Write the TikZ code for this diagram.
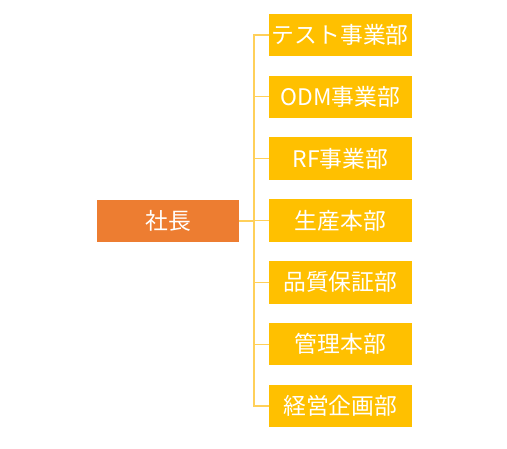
\documentclass[tikz,border=0pt]{standalone}
\usepackage{fontspec}
\newfontfamily\cjk{Noto Sans CJK JP}
\definecolor{rootc}{HTML}{ED7D31}
\definecolor{childc}{HTML}{FFC000}
\definecolor{linec}{HTML}{FFD05A}
\begin{document}
\begin{tikzpicture}[x=1pt,y=-1pt,
  box/.style={minimum width=142.5pt,minimum height=42.5pt,inner sep=0pt,text=white,font=\cjk\fontsize{22.8}{22.8}\selectfont},
  rootbox/.style={box,fill=rootc},
  childbox/.style={box,fill=childc},
  conn/.style={draw=linec,line width=1.2pt}]
\useasboundingbox (0,0) rectangle (507,449);
\node[rootbox] (root) at (168,221) {社長};
\node[childbox] (c1) at (340.3,35) {テスト事業部};
\node[childbox] (c2) at (340.3,96.8) {ODM事業部};
\node[childbox] (c3) at (340.3,158.7) {RF事業部};
\node[childbox] (c4) at (340.3,220.5) {生産本部};
\node[childbox] (c5) at (340.3,282.3) {品質保証部};
\node[childbox] (c6) at (340.3,344.2) {管理本部};
\node[childbox] (c7) at (340.3,406) {経営企画部};
\coordinate (t) at (254,221);
\draw[conn] (root.east) -- (t);
\foreach \i in {1,...,7} {\draw[conn] (t) |- (c\i.west);}
\end{tikzpicture}
\end{document}
